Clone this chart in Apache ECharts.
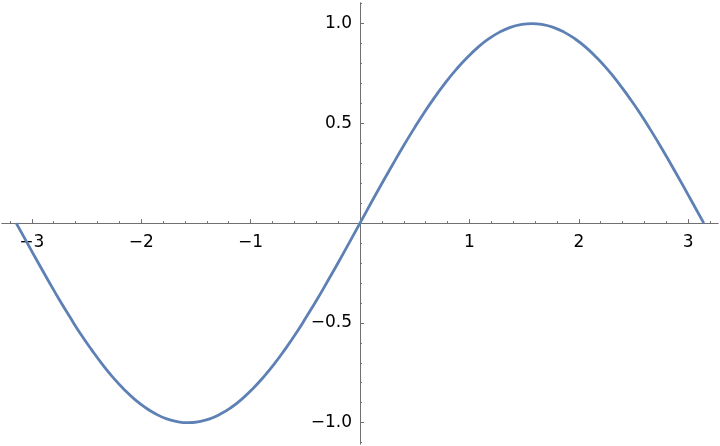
<!DOCTYPE html>
<html>
<head>
<meta charset="utf-8">
<script src="https://cdn.jsdelivr.net/npm/echarts@6/dist/echarts.min.js"></script>
<style>html,body{margin:0;padding:0;background:#fff}#c{width:720px;height:446px}</style>
</head>
<body>
<div id="c"></div>
<script>
// Points (x, y)
var xs = [-3.142, -3.043, -2.945, -2.847, -2.749, -2.651, -2.553, -2.454, -2.356, -2.258, -2.160, -2.062, -1.963, -1.865, -1.767, -1.669,
          -1.571, -1.473, -1.374, -1.276, -1.178, -1.080, -0.982, -0.884, -0.785, -0.687, -0.589, -0.491, -0.393, -0.295, -0.196, -0.098,
          0.000, 0.098, 0.196, 0.295, 0.393, 0.491, 0.589, 0.687, 0.785, 0.884, 0.982, 1.080, 1.178, 1.276, 1.374, 1.473,
          1.571, 1.669, 1.767, 1.865, 1.963, 2.062, 2.160, 2.258, 2.356, 2.454, 2.553, 2.651, 2.749, 2.847, 2.945, 3.043, 3.142];
var ys = [0.000, -0.098, -0.195, -0.290, -0.383, -0.471, -0.556, -0.634, -0.707, -0.773, -0.831, -0.882, -0.924, -0.957, -0.981, -0.995,
          -1.000, -0.995, -0.981, -0.957, -0.924, -0.882, -0.831, -0.773, -0.707, -0.634, -0.556, -0.471, -0.383, -0.290, -0.195, -0.098,
          0.000, 0.098, 0.195, 0.290, 0.383, 0.471, 0.556, 0.634, 0.707, 0.773, 0.831, 0.882, 0.924, 0.957, 0.981, 0.995,
          1.000, 0.995, 0.981, 0.957, 0.924, 0.882, 0.831, 0.773, 0.707, 0.634, 0.556, 0.471, 0.383, 0.290, 0.195, 0.098, 0.000];
var xMajorTicks = [-3, -2, -1, 1, 2, 3];
var xMinorTicks = [-3.2, -2.8, -2.6, -2.4, -2.2, -1.8, -1.6, -1.4, -1.2, -0.8, -0.6, -0.4, -0.2,
                   0.2, 0.4, 0.6, 0.8, 1.2, 1.4, 1.6, 1.8, 2.2, 2.4, 2.6, 2.8, 3.2];
var yMajorTicks = [-1.0, -0.5, 0.5, 1.0];
var yMinorTicks = [-1.1, -0.9, -0.8, -0.7, -0.6, -0.4, -0.3, -0.2, -0.1, 0.1, 0.2, 0.3, 0.4, 0.6, 0.7, 0.8, 0.9, 1.1];

var data = xs.map(function (x, i) { return [x, ys[i]]; });
var axisColor = '#707070';
var fontFam = 'DejaVu Sans';

var W = 720, H = 446;
var gl = 2, gr = 2, gt = 3, gb = 2;
var xMin = -3.272, xMax = 3.272, yMin = -1.107, yMax = 1.103;
// axis offsets so that the axes cross at (0,0)
var plotW = W - gl - gr, plotH = H - gt - gb;
var yAxisOffset = -(0 - xMin) / (xMax - xMin) * plotW;
var xAxisOffset = -(0 - yMin) / (yMax - yMin) * plotH;

function fmtX(v) { return (v < 0 ? '\u2212' : '') + Math.abs(v); }
function fmtY(v) { return (v < 0 ? '\u2212' : '') + Math.abs(v).toFixed(1); }

function xAx(ticks, len, labels) {
  return {
    type: 'value', min: xMin, max: xMax, position: 'bottom', offset: xAxisOffset,
    axisLine: { show: true, onZero: false, lineStyle: { color: axisColor, width: 1 } },
    axisTick: { show: true, inside: true, length: len, customValues: ticks, lineStyle: { color: axisColor } },
    axisLabel: labels ? { show: true, customValues: ticks, formatter: fmtX, margin: 11,
      color: '#000', fontSize: 17, fontFamily: fontFam } : { show: false },
    splitLine: { show: false }
  };
}
function yAx(ticks, len, labels) {
  return {
    type: 'value', min: yMin, max: yMax, position: 'left', offset: yAxisOffset,
    axisLine: { show: true, onZero: false, lineStyle: { color: axisColor, width: 1 } },
    axisTick: { show: true, inside: true, length: len, customValues: ticks, lineStyle: { color: axisColor } },
    axisLabel: labels ? { show: true, customValues: ticks, formatter: fmtY, margin: 8,
      color: '#000', fontSize: 17, fontFamily: fontFam } : { show: false },
    splitLine: { show: false }
  };
}

var chart = echarts.init(document.getElementById('c'));
chart.setOption({
  animation: false,
  grid: { left: gl, right: gr, top: gt, bottom: gb, containLabel: false, outerBoundsMode: 'none' },
  xAxis: [xAx(xMajorTicks, 4, true), xAx(xMinorTicks, 2, false)],
  yAxis: [yAx(yMajorTicks, 4, true), yAx(yMinorTicks, 2, false)],
  series: [{
    type: 'line', xAxisIndex: 0, yAxisIndex: 0,
    data: data, smooth: true, showSymbol: false,
    lineStyle: { color: '#5E81B5', width: 2.8 }
  }]
});
</script>
</body>
</html>
